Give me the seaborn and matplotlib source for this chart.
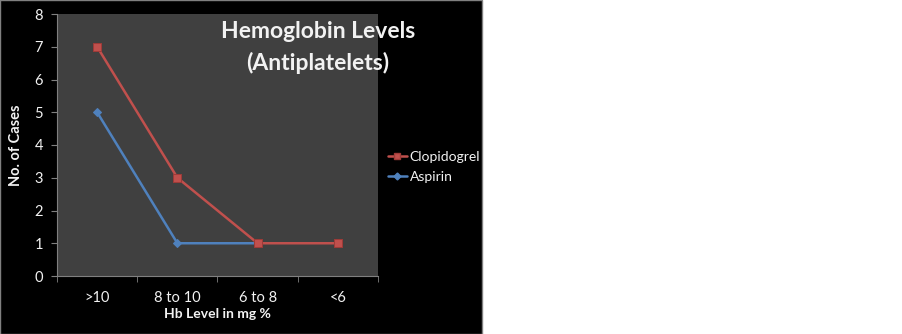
import numpy as np
import pandas as pd
import seaborn as sns
import matplotlib.pyplot as plt
from matplotlib.lines import Line2D
from matplotlib.patches import Rectangle

# data
categories = ['>10', '8 to 10', '6 to 8', '<6']
clopidogrel = [7, 3, 1, 1]
aspirin = [5, 1, 1, np.nan]

df = pd.DataFrame({
    'Hb': categories * 2,
    'Cases': clopidogrel + aspirin,
    'Drug': ['Clopidogrel'] * 4 + ['Aspirin'] * 4,
})

sns.set_style('white')
plt.rcParams['font.family'] = ['Lato', 'DejaVu Sans']

red = '#C0504D'
blue = '#4F81BD'
txt = '#F2F2F2'

fig = plt.figure(figsize=(9.03, 3.34), dpi=100, facecolor='white')
# black slide background on the left part, in a background axes
bg = fig.add_axes([0, 0, 1, 1], zorder=-1)
bg.axis('off')
bg.add_patch(Rectangle((0, 0), 482 / 903, 1, transform=bg.transAxes,
                       facecolor='black', edgecolor='#808080', lw=1))

ax = fig.add_axes([57 / 903, 58 / 334, 321 / 903, 262 / 334])
ax.set_facecolor('#404040')

# aspirin first so clopidogrel sits on top
sns.lineplot(data=df[df.Drug == 'Aspirin'], x='Hb', y='Cases', color=blue,
             marker='D', markersize=4, markeredgecolor=blue, lw=1.8, ax=ax, sort=False)
sns.lineplot(data=df[df.Drug == 'Clopidogrel'], x='Hb', y='Cases', color=red,
             marker='s', markersize=5.5, markeredgecolor='#9E3B38', lw=1.8, ax=ax, sort=False)

ax.set_xlim(-0.5, 3.5)
ax.set_ylim(0, 8)
ax.set_yticks(range(9))
ax.set_xticks(range(4))
ax.set_xticklabels(categories)
ax.set_xticks(np.arange(-0.5, 4, 1), minor=True)
ax.tick_params(axis='x', which='major', length=0, pad=11, colors=txt, labelsize=10.5)
ax.tick_params(axis='x', which='minor', length=4, color='#808080', direction='out', bottom=True)
ax.tick_params(axis='y', length=4, color='#808080', direction='out', labelcolor=txt,
               labelsize=10.5, pad=6, left=True)

for s in ['top', 'right']:
    ax.spines[s].set_visible(False)
for s in ['left', 'bottom']:
    ax.spines[s].set_color('#808080')
    ax.spines[s].set_linewidth(0.8)

ax.set_xlabel('Hb Level in mg %', color=txt, fontsize=10, fontweight='bold', labelpad=2)
ax.set_ylabel('No. of Cases', color=txt, fontsize=10.5, fontweight='bold', labelpad=8)

fig.text(318 / 903, 1 - 31 / 334, 'Hemoglobin Levels', color=txt, fontsize=16.5,
         fontweight='bold', ha='center', va='center')
fig.text(318 / 903, 1 - 63 / 334, '(Antiplatelets)', color=txt, fontsize=16.5,
         fontweight='bold', ha='center', va='center')

handles = [
    Line2D([], [], color=red, marker='s', markersize=5, lw=1.8, markeredgecolor='#9E3B38'),
    Line2D([], [], color=blue, marker='D', markersize=3.5, lw=1.8),
]
leg = fig.legend(handles, ['Clopidogrel', 'Aspirin'], loc='center left',
                 bbox_to_anchor=(382 / 903, 1 - 167 / 334), frameon=False,
                 fontsize=10, handlelength=1.4, handletextpad=0.2, labelspacing=0.6,
                 borderaxespad=0)
for t in leg.get_texts():
    t.set_color(txt)

fig.savefig('out.png', dpi=100, facecolor='white')
